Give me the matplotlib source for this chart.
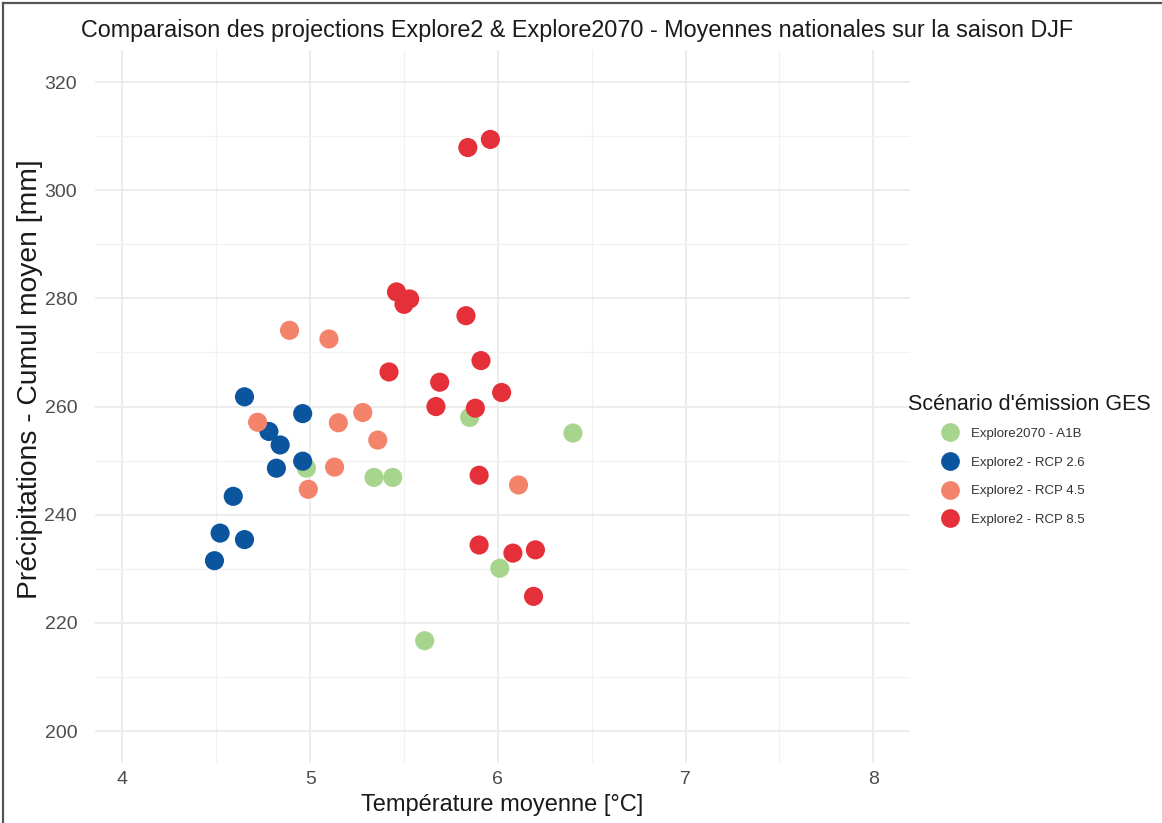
import matplotlib
matplotlib.use("Agg")
import matplotlib.pyplot as plt
from matplotlib.lines import Line2D

plt.rcParams['font.family'] = ['Liberation Sans', 'DejaVu Sans']

# Explore2070 - A1B
a1b_temp = [4.98, 5.34, 5.44, 5.85, 6.40, 6.01, 5.61]
a1b_prec = [248.6, 246.9, 246.9, 258.0, 255.1, 230.1, 216.7]

# Explore2 - RCP 2.6
rcp26_temp = [4.65, 4.96, 4.78, 4.84, 4.96, 4.82, 4.59, 4.52, 4.65, 4.49]
rcp26_prec = [261.8, 258.7, 255.4, 252.9, 249.9, 248.6, 243.4, 236.6, 235.4, 231.5]

# Explore2 - RCP 4.5
rcp45_temp = [4.89, 5.10, 4.72, 5.15, 5.28, 5.36, 5.13, 4.99, 6.11]
rcp45_prec = [274.1, 272.5, 257.1, 257.0, 258.9, 253.8, 248.8, 244.7, 245.5]

# Explore2 - RCP 8.5
rcp85_temp = [5.84, 5.96, 5.46, 5.53, 5.50, 5.83, 5.91, 5.42, 5.69, 6.02,
              5.67, 5.88, 5.90, 5.90, 6.08, 6.20, 6.19]
rcp85_prec = [307.9, 309.4, 281.2, 279.9, 278.9, 276.8, 268.5, 266.4, 264.5, 262.6,
              260.0, 259.7, 247.3, 234.4, 232.9, 233.5, 224.9]

series = [
    ("Explore2070 - A1B", a1b_temp, a1b_prec, "#a8d58d"),
    ("Explore2 - RCP 2.6", rcp26_temp, rcp26_prec, "#0a559e"),
    ("Explore2 - RCP 4.5", rcp45_temp, rcp45_prec, "#f3836a"),
    ("Explore2 - RCP 8.5", rcp85_temp, rcp85_prec, "#e5303a"),
]

fig = plt.figure(figsize=(11.62, 8.23), dpi=100)
ax = fig.add_axes([0.082, 0.073, 0.701, 0.866])

for nom, t, p, c in series:
    ax.scatter(t, p, s=190, color=c, edgecolors='none', zorder=3, label=nom)

ax.set_xlim(3.855, 8.195)
ax.set_ylim(194.1, 325.9)
ax.set_xticks([4, 5, 6, 7, 8])
ax.set_xticks([4.5, 5.5, 6.5, 7.5], minor=True)
ax.set_yticks([200, 220, 240, 260, 280, 300, 320])
ax.set_yticks([210, 230, 250, 270, 290, 310], minor=True)
ax.grid(which='major', color='#ebebeb', linewidth=1.3, zorder=0)
ax.grid(which='minor', color='#f2f2f2', linewidth=0.9, zorder=0)
for s in ax.spines.values():
    s.set_visible(False)
ax.tick_params(which='both', length=0, labelsize=14, labelcolor='#4d4d4d')
ax.tick_params(axis='y', pad=13)
ax.tick_params(axis='x', pad=6)

ax.set_xlabel("Température moyenne [°C]", fontsize=17, color='#1a1a1a', labelpad=4)
ax.set_ylabel("Précipitations - Cumul moyen [mm]", fontsize=20.3, color='#1a1a1a')
ax.yaxis.set_label_coords(-0.064, 0.5386)
fig.text(0.497, 0.963, "Comparaison des projections Explore2 & Explore2070 - Moyennes nationales sur la saison DJF",
         ha='center', va='center', fontsize=16.8, color='#1a1a1a')

# legende : titre a part, puis les entrees
fig.text(0.7815, 0.5085, "Scénario d'émission GES", ha='left', va='center', fontsize=15.5, color='#1a1a1a')
handles = [Line2D([], [], marker='o', linestyle='none', markersize=13.5,
                  markerfacecolor=c, markeredgecolor='none') for _, _, _, c in series]
leg = fig.legend(handles, [s[0] for s in series],
                 loc='upper left', bbox_to_anchor=(0.8065, 0.4805), frameon=False,
                 fontsize=9.5, labelspacing=1.25, handlelength=2.0, handletextpad=0.6,
                 borderaxespad=0, borderpad=0)
for txt in leg.get_texts():
    txt.set_color('#333333')

# cadre gris en haut et a gauche
fig.add_artist(Line2D([0.0025, 0.0025], [0, 0.996], transform=fig.transFigure, color='#555555', linewidth=1.6))
fig.add_artist(Line2D([0.0025, 1], [0.996, 0.996], transform=fig.transFigure, color='#555555', linewidth=1.6))

fig.savefig("out.png", dpi=100)
